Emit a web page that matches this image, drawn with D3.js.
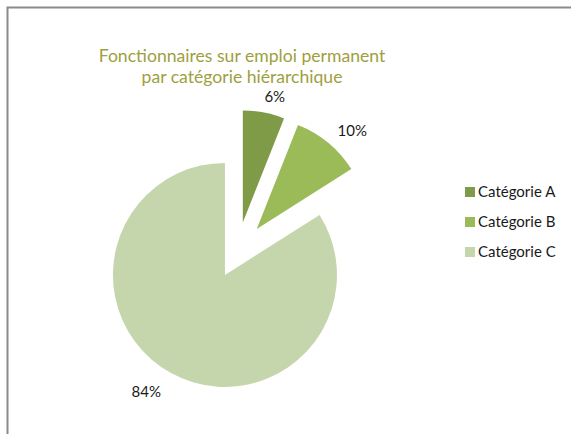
<!DOCTYPE html>
<html>
<head>
<meta charset="utf-8">
<style>
  body { margin: 0; background: #fff; }
  svg text { font-family: Lato, "Open Sans", sans-serif; }
</style>
<script src="https://cdn.jsdelivr.net/npm/d3@7"></script>
</head>
<body>
<script>
// data
var categories = ["Catégorie A", "Catégorie B", "Catégorie C"];
var values = [6, 10, 84];
var colors = ["#7f9b47", "#9bbb59", "#c5d6ac"];
var explode = [31, 31, 25];
var titleLines = ["Fonctionnaires sur emploi permanent", "par catégorie hiérarchique"];

var width = 571, height = 434;
var radius = 112;
var cx = 237, cy = 253;

var svg = d3.select("body").append("svg")
  .attr("width", width)
  .attr("height", height);

// chart frame (only top/left edges visible)
svg.append("rect")
  .attr("x", 7.5).attr("y", 7.5)
  .attr("width", 700).attr("height", 600)
  .attr("fill", "none")
  .attr("stroke", "#8a8a8a")
  .attr("stroke-width", 2);

// title
var title = svg.append("text")
  .attr("text-anchor", "middle")
  .attr("fill", "#9e9f3e")
  .style("font-size", "17.6px");
title.selectAll("tspan")
  .data(titleLines)
  .enter().append("tspan")
  .attr("x", 242)
  .attr("y", function(d, i) { return 62 + i * 21; })
  .text(function(d) { return d; });

var pie = d3.pie().sort(null).value(function(d) { return d; });
var arcs = pie(values);
var arc = d3.arc().innerRadius(0).outerRadius(radius);
var total = d3.sum(values);

var g = svg.append("g").attr("transform", "translate(" + cx + "," + cy + ")");

var slice = g.selectAll("g.slice")
  .data(arcs)
  .enter().append("g")
  .attr("class", "slice")
  .attr("transform", function(d, i) {
    var a = (d.startAngle + d.endAngle) / 2;
    return "translate(" + (Math.sin(a) * explode[i]) + "," + (-Math.cos(a) * explode[i]) + ")";
  });

slice.append("path")
  .attr("d", arc)
  .attr("fill", function(d, i) { return colors[i]; });

var labelR = [130, 137, 141];
var labelShift = [0.06, 0.08, 0.09];
slice.append("text")
  .attr("text-anchor", "middle")
  .attr("dy", "0.35em")
  .attr("fill", "#1a1a1a")
  .style("font-size", "15px")
  .attr("x", function(d, i) {
    var a = (d.startAngle + d.endAngle) / 2 + labelShift[i];
    return Math.sin(a) * labelR[i];
  })
  .attr("y", function(d, i) {
    var a = (d.startAngle + d.endAngle) / 2 + labelShift[i];
    return -Math.cos(a) * labelR[i];
  })
  .text(function(d) { return Math.round(d.value / total * 100) + "%"; });

// legend
var legend = svg.append("g").attr("transform", "translate(465,192)");
var item = legend.selectAll("g")
  .data(categories)
  .enter().append("g")
  .attr("transform", function(d, i) { return "translate(0," + (i * 30) + ")"; });

item.append("rect")
  .attr("x", 0).attr("y", -5)
  .attr("width", 10).attr("height", 10)
  .attr("fill", function(d, i) { return colors[i]; });

item.append("text")
  .attr("x", 13)
  .attr("dy", "0.35em")
  .attr("fill", "#1a1a1a")
  .style("font-size", "15px")
  .text(function(d) { return d; });
</script>
</body>
</html>
